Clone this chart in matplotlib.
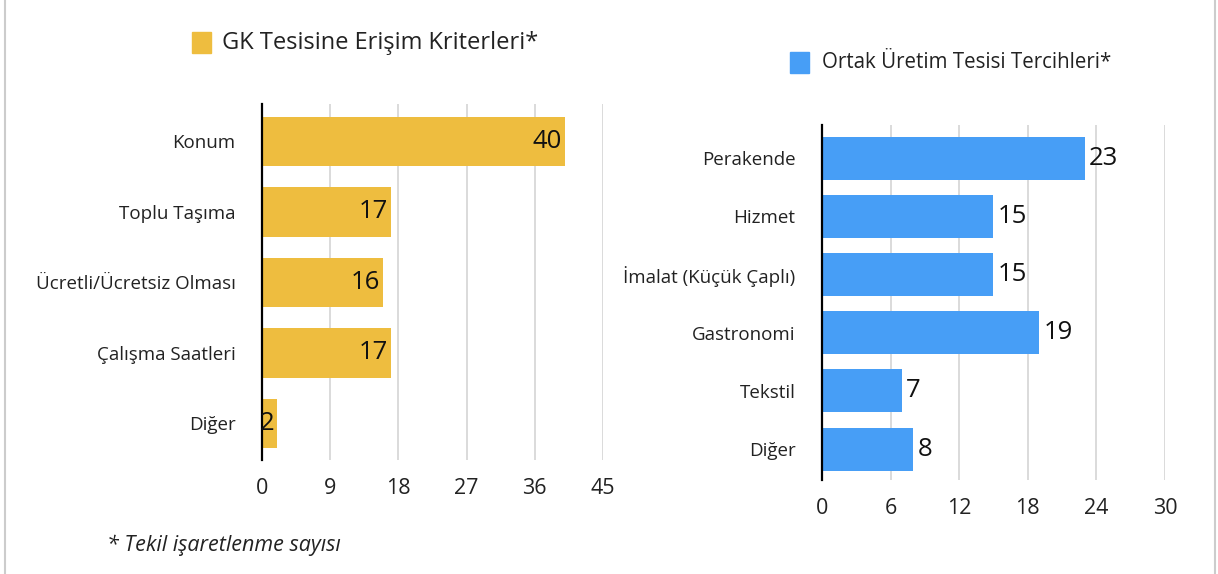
import matplotlib.pyplot as plt
from matplotlib.patches import Rectangle
from matplotlib.lines import Line2D

plt.rcParams['font.family'] = ['Open Sans', 'DejaVu Sans']

# left chart data
access_labels = ['Konum', 'Toplu Taşıma', 'Ücretli/Ücretsiz Olması', 'Çalışma Saatleri', 'Diğer']
access_values = [40, 17, 16, 17, 2]
access_ticks = [0, 9, 18, 27, 36, 45]

# right chart data
sector_labels = ['Perakende', 'Hizmet', 'İmalat (Küçük Çaplı)', 'Gastronomi', 'Tekstil', 'Diğer']
sector_values = [23, 15, 15, 19, 7, 8]
sector_ticks = [0, 6, 12, 18, 24, 30]

yellow = '#EEBD3F'
blue = '#479EF6'
grid = '#D4D4D4'

W, H = 1218, 574
fig = plt.figure(figsize=(W / 100, H / 100), dpi=100)


def box(x0, y0, x1, y1):
    # pixel coords (top-left origin) -> figure fraction rect
    return [x0 / W, 1 - y1 / H, (x1 - x0) / W, (y1 - y0) / H]


def style(ax, ticks):
    for s in ['top', 'right', 'bottom']:
        ax.spines[s].set_visible(False)
    ax.spines['left'].set_color('black')
    ax.spines['left'].set_linewidth(1.6)
    ax.set_xticks(ticks)
    ax.xaxis.grid(True, color=grid, linewidth=1.2)
    ax.set_axisbelow(True)
    ax.tick_params(axis='both', length=0, colors='#222222')
    ax.tick_params(axis='y', pad=19, labelsize=13.5)
    ax.tick_params(axis='x', pad=13, labelsize=15.5)


# left chart
ax1 = fig.add_axes(box(262, 104, 603, 460))
y1 = range(len(access_labels))
ax1.barh(y1, access_values, height=0.70, color=yellow)
ax1.set_yticks(list(y1))
ax1.set_yticklabels(access_labels)
ax1.set_ylim(len(access_labels) - 0.48, -0.53)
ax1.set_xlim(0, 45)
style(ax1, access_ticks)
for i, v in enumerate(access_values):
    ax1.text(v - 0.4, i, str(v), ha='right', va='center', fontsize=18.5, color='#111111')

# right chart
ax2 = fig.add_axes(box(822, 125, 1165, 480))
y2 = range(len(sector_labels))
ax2.barh(y2, sector_values, height=0.74, color=blue)
ax2.set_yticks(list(y2))
ax2.set_yticklabels(sector_labels)
ax2.set_ylim(len(sector_labels) - 0.47, -0.57)
ax2.set_xlim(0, 30)
style(ax2, sector_ticks)
for i, v in enumerate(sector_values):
    ax2.text(v + 0.35, i, str(v), ha='left', va='center', fontsize=18.5, color='#111111')

# legends drawn as patches + text
fig.patches.append(Rectangle((192 / W, 1 - 53 / H), 19 / W, 21 / H,
                             transform=fig.transFigure, color=yellow))
fig.text(222 / W, 1 - 43 / H, 'GK Tesisine Erişim Kriterleri*', fontsize=17,
         va='center', ha='left', color='#222222')
fig.patches.append(Rectangle((790 / W, 1 - 73 / H), 19 / W, 21 / H,
                             transform=fig.transFigure, color=blue))
fig.text(822 / W, 1 - 62 / H, 'Ortak Üretim Tesisi Tercihleri*', fontsize=14.8,
         va='center', ha='left', color='#222222')

fig.text(107 / W, 1 - 545 / H, '* Tekil işaretlenme sayısı', fontsize=15.5,
         style='italic', va='center', ha='left', color='#222222')

# frame lines at the sides
for xp in [5, 1215]:
    fig.lines.append(Line2D([xp / W, xp / W], [0, 1], transform=fig.transFigure,
                            color='#CCCCCC', linewidth=1.5))

fig.savefig('out.png', dpi=100, facecolor='white')
